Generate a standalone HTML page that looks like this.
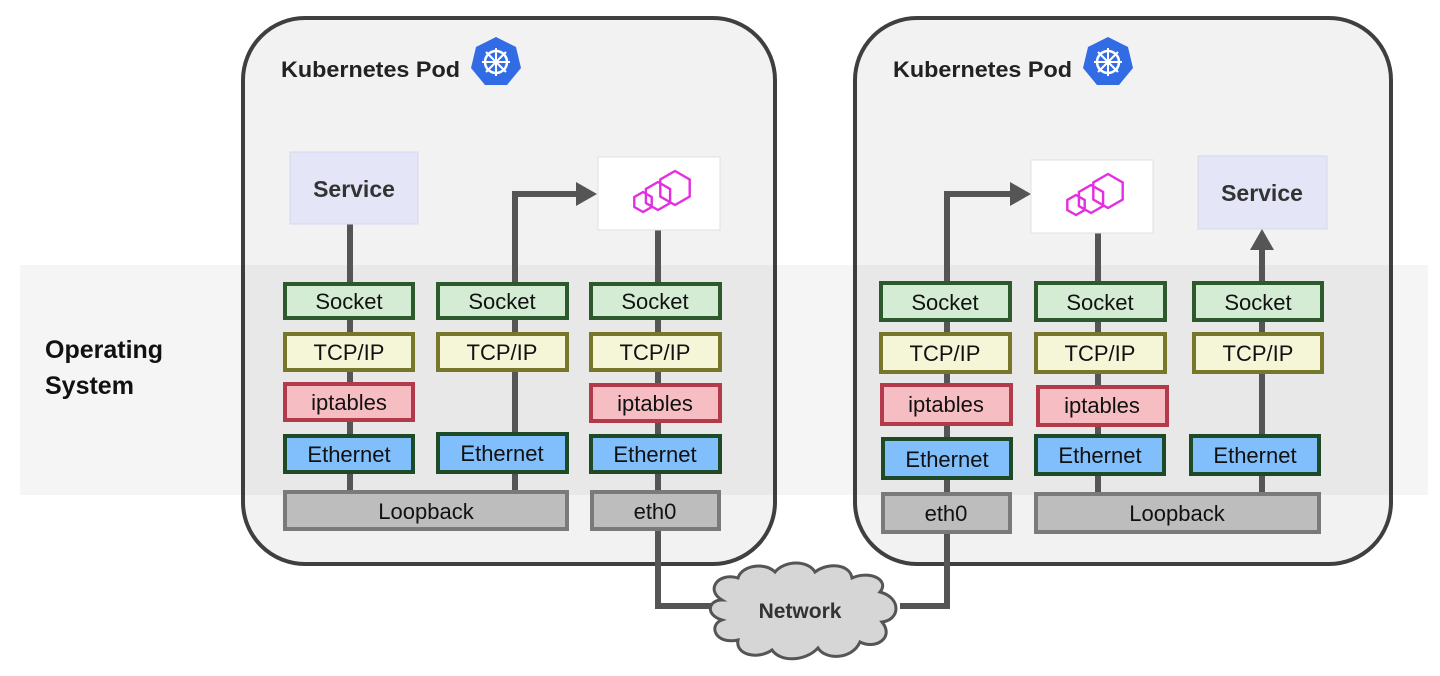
<!DOCTYPE html>
<html><head><meta charset="utf-8"><style>
html,body{margin:0;padding:0;background:#fff;}
svg{display:block;}
text{font-family:"Liberation Sans",sans-serif;}
</style></head><body>
<svg width="1440" height="676" viewBox="0 0 1440 676" xmlns="http://www.w3.org/2000/svg">
<rect x="243" y="18" width="532" height="546" rx="62" fill="#f2f2f2" stroke="#3f3f3f" stroke-width="4"/>
<rect x="855" y="18" width="536" height="546" rx="62" fill="#f2f2f2" stroke="#3f3f3f" stroke-width="4"/>
<rect x="20" y="265" width="1408" height="230" fill="rgba(20,20,40,0.045)"/>
<text x="45" y="358" font-size="25" font-weight="bold" fill="#111">Operating</text>
<text x="45" y="394" font-size="25" font-weight="bold" fill="#111">System</text>

<text x="281" y="77" font-size="22" font-weight="bold" fill="#222" textLength="179" lengthAdjust="spacingAndGlyphs">Kubernetes Pod</text>
<text x="893" y="77" font-size="22" font-weight="bold" fill="#222" textLength="179" lengthAdjust="spacingAndGlyphs">Kubernetes Pod</text>
<g id="k8s">
<polygon points="496,37 516,47 521,68 507,85 485,85 471,68 476,47" fill="#326ce5"/>
<circle cx="496" cy="62" r="11" fill="none" stroke="#fff" stroke-width="2.5"/>
<g stroke="#fff" stroke-width="2"><line x1="496" y1="48" x2="496" y2="76"/><line x1="482" y1="62" x2="510" y2="62"/><line x1="486" y1="52" x2="506" y2="72"/><line x1="506" y1="52" x2="486" y2="72"/></g>
</g>
<use href="#k8s" x="612" y="0"/>

<g stroke="#555" stroke-width="6" fill="none">
<line x1="350" y1="224" x2="350" y2="492"/>
<polyline points="515,492 515,194 580,194"/>
<line x1="658" y1="230" x2="658" y2="492"/>
<polyline points="658,530 658,606 720,606"/>
<polyline points="900,606 947,606 947,194 1012,194"/>
<line x1="1098" y1="232" x2="1098" y2="494"/>
<line x1="1262" y1="250" x2="1262" y2="494"/>
</g>
<polygon points="576,182 597,194 576,206" fill="#555"/>
<polygon points="1010,182 1031,194 1010,206" fill="#555"/>
<polygon points="1250,250 1262,229 1274,250" fill="#555"/>

<rect x="290" y="152" width="128" height="72" fill="#e4e6f8" stroke="#d6d8ea"/>
<text x="354" y="197" font-size="23" font-weight="bold" fill="#333" text-anchor="middle">Service</text>
<rect x="1198" y="156" width="129" height="73" fill="#e4e6f8" stroke="#d6d8ea"/>
<text x="1262" y="201" font-size="23" font-weight="bold" fill="#333" text-anchor="middle">Service</text>
<g id="env">
<rect x="598" y="157" width="122" height="73" fill="#fff" stroke="#e0e0e0"/>
<g fill="none" stroke="#e52ee0" stroke-width="2.4">
<polygon points="643,192 651.7,197 651.7,207 643,212 634.3,207 634.3,197"/>
<polygon points="658,182 670.1,189 670.1,203 658,210 645.9,203 645.9,189"/>
<polygon points="675,171 689.7,179.5 689.7,196.5 675,205 660.3,196.5 660.3,179.5"/>
</g>
</g>
<use href="#env" x="433" y="3"/>

<g stroke-width="4">
<g fill="#d5ecd4" stroke="#2d5a2d">
<rect x="285" y="284" width="128" height="34"/><rect x="438" y="284" width="129" height="34"/><rect x="591" y="284" width="129" height="34"/>
<rect x="881" y="283" width="129" height="37"/><rect x="1036" y="283" width="129" height="37"/><rect x="1194" y="283" width="128" height="37"/>
</g>
<g fill="#f5f5d8" stroke="#77772c">
<rect x="285" y="334" width="128" height="36"/><rect x="438" y="334" width="129" height="36"/><rect x="591" y="334" width="129" height="36"/>
<rect x="881" y="334" width="129" height="38"/><rect x="1036" y="334" width="129" height="38"/><rect x="1194" y="334" width="128" height="38"/>
</g>
<g fill="#f6bec2" stroke="#b23a4a">
<rect x="285" y="384" width="128" height="36"/><rect x="591" y="385" width="129" height="36"/>
<rect x="882" y="385" width="129" height="39"/><rect x="1038" y="387" width="129" height="38"/>
</g>
<g fill="#80bffc" stroke="#1f4a28">
<rect x="285" y="436" width="128" height="36"/><rect x="438" y="434" width="129" height="38"/><rect x="591" y="436" width="129" height="36"/>
<rect x="883" y="439" width="128" height="39"/><rect x="1036" y="436" width="128" height="38"/><rect x="1191" y="436" width="128" height="38"/>
</g>
<g fill="#bdbdbd" stroke="#7a7a7a">
<rect x="285" y="492" width="282" height="37"/><rect x="592" y="492" width="127" height="37"/>
<rect x="883" y="494" width="127" height="38"/><rect x="1036" y="494" width="283" height="38"/>
</g>
</g>
<g font-size="22" fill="#111" text-anchor="middle">
<text x="349" y="309">Socket</text><text x="502" y="309">Socket</text><text x="655" y="309">Socket</text>
<text x="945" y="310">Socket</text><text x="1100" y="310">Socket</text><text x="1258" y="310">Socket</text>
<text x="349" y="360">TCP/IP</text><text x="502" y="360">TCP/IP</text><text x="655" y="360">TCP/IP</text>
<text x="945" y="361">TCP/IP</text><text x="1100" y="361">TCP/IP</text><text x="1258" y="361">TCP/IP</text>
<text x="349" y="410">iptables</text><text x="655" y="411">iptables</text>
<text x="946" y="412">iptables</text><text x="1102" y="413">iptables</text>
<text x="349" y="462">Ethernet</text><text x="502" y="461">Ethernet</text><text x="655" y="462">Ethernet</text>
<text x="947" y="467">Ethernet</text><text x="1100" y="463">Ethernet</text><text x="1255" y="463">Ethernet</text>
<text x="426" y="519">Loopback</text><text x="655" y="519">eth0</text>
<text x="946" y="521">eth0</text><text x="1177" y="521">Loopback</text>
</g>

<path d="M722,600 C705,590 718,572 738,578 C742,565 765,562 775,572 C785,560 808,560 815,572 C828,562 850,564 852,578 C870,570 890,580 880,592 C902,598 900,620 882,622 C895,638 875,650 860,642 C852,660 825,660 818,648 C805,662 780,662 772,650 C758,660 735,655 738,640 C715,645 708,625 722,620 C705,615 708,600 722,600 Z" fill="#d6d6d6" stroke="#555" stroke-width="3"/>
<text x="800" y="618" font-size="21" font-weight="bold" fill="#333" text-anchor="middle">Network</text>
</svg>
</body></html>
